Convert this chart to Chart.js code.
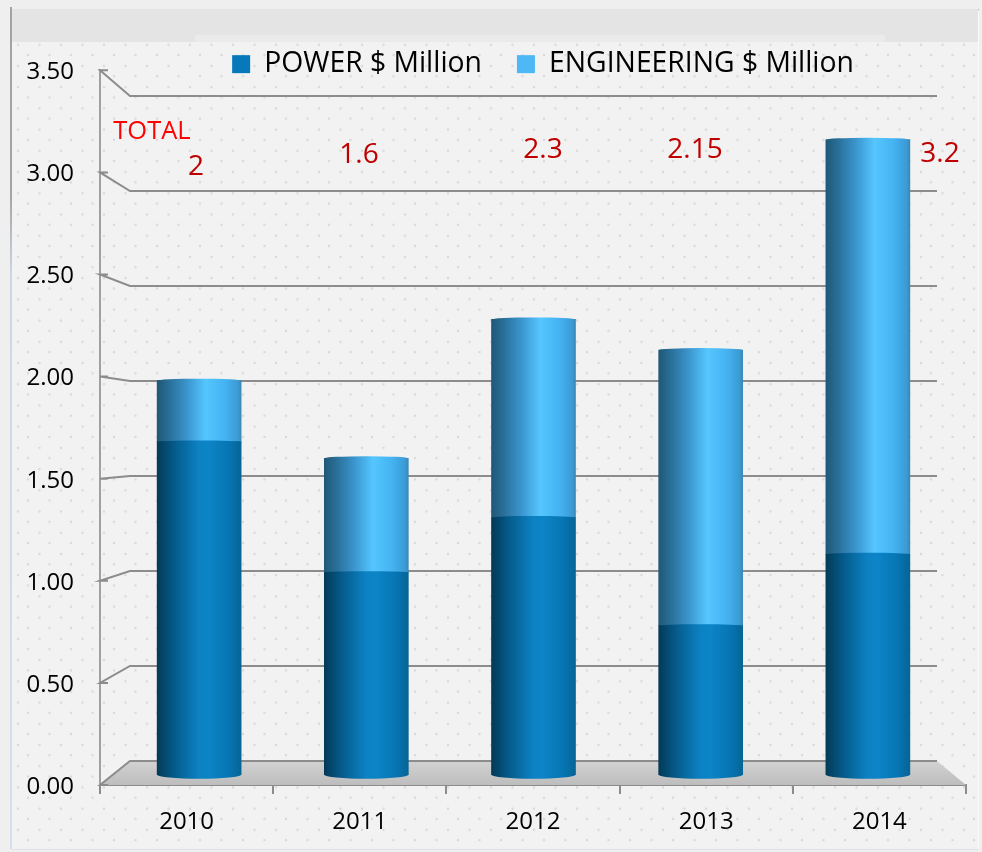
<!DOCTYPE html>
<html>
<head>
<meta charset="utf-8">
<title>Power and Engineering</title>
<script src="https://cdn.jsdelivr.net/npm/chart.js@4"></script>
<style>
html, body { margin: 0; padding: 0; background: #efefef; }
#moldura {
  position: absolute; left: 12px; top: 9px; width: 966px; height: 838px;
  border-top: 2px solid #a3a3a3;
  border-right: 1px solid #fafafa; border-bottom: 1px solid #dfe3e8;
  background-color: #f2f2f2;
  background-image:
    radial-gradient(circle, #d9d9d9 1.1px, transparent 1.6px),
    radial-gradient(circle, #d9d9d9 1.1px, transparent 1.6px);
  background-size: 21.5px 21.23px;
  background-position: 5.25px 12.2px, -4.75px 1.9px;
}
#lateral {
  position: absolute; left: 10px; top: 7px; width: 2px; height: 842px;
  background: linear-gradient(#a3a3a3 0, #a3a3a3 22%, #ccd6e4 32%, #d5e0ee 100%);
}
#faixa { position: absolute; left: 12px; top: 9px; width: 966px; height: 33px; background: #e4e4e4; }
#faixa2 { position: absolute; left: 195px; top: 35px; width: 690px; height: 7px; background: #eaeaea; }
#grafico { position: absolute; left: 0; top: 0; }
</style>
</head>
<body>
<div id="moldura"></div>
<div id="lateral"></div>
<div id="faixa"></div>
<div id="faixa2"></div>
<canvas id="grafico" width="982" height="852"></canvas>
<script>
var anos = ['2010', '2011', '2012', '2013', '2014']
var posicao = [0, 1, 2, 3, 4]
var power = [1.68, 1.04, 1.31, 0.78, 1.13]
var engineering = [0.30, 0.56, 0.97, 1.35, 2.03]
var totais = ['2', '1.6', '2.3', '2.15', '3.2']
var ticks_y = [0, 0.5, 1, 1.5, 2, 2.5, 3, 3.5]

// posição de cada rótulo de total (caixas de texto soltas no original)
var pos_totais = [[196, 167], [359, 155], [543, 150], [695, 150], [940, 154]]

var ctx = document.getElementById('grafico').getContext('2d')
var fonte = '"Open Sans", sans-serif'

// largura da barra em px
var largura = 84

function gradiente(x, cores) {
  var g = ctx.createLinearGradient(x - largura / 2, 0, x + largura / 2, 0)
  for (var i = 0; i < cores.length; i++) {
    g.addColorStop(cores[i][0], cores[i][1])
  }
  return g
}

var cores_power = [[0, '#033a58'], [0.22, '#055d8e'], [0.5, '#0c82c4'], [0.62, '#0c84c6'], [0.85, '#0775b3'], [1, '#066596']]
var cores_eng = [[0, '#1f5878'], [0.15, '#2a7099'], [0.35, '#3a94cc'], [0.58, '#55c6ff'], [0.8, '#45b4f2'], [0.96, '#3a9bd6'], [1, '#3c88b5']]

function pontos(valores) {
  return valores.map(function (v, i) { return { x: posicao[i], y: v } })
}

// parede do fundo, chão e linhas de grade em perspectiva
var parede = {
  id: 'parede',
  beforeDatasetsDraw: function (chart) {
    var y = chart.scales.y
    var c = chart.ctx
    var zero = y.getPixelForValue(0)
    var dir = chart.chartArea.right

    var chao = c.createLinearGradient(0, 761, 0, 785)
    chao.addColorStop(0, '#d2d2d2')
    chao.addColorStop(1, '#bdbdbd')
    c.fillStyle = chao
    c.beginPath()
    c.moveTo(100, zero)
    c.lineTo(130, 761)
    c.lineTo(937, 761)
    c.lineTo(dir, zero)
    c.closePath()
    c.fill()

    c.strokeStyle = '#8c8c8c'
    c.lineWidth = 2
    ticks_y.forEach(function (v) {
      var frente = y.getPixelForValue(v)
      var fundo = 761 - v * 190
      c.beginPath()
      c.moveTo(108, frente)
      c.lineTo(100, frente)
      c.lineTo(130, fundo)
      c.lineTo(937, fundo)
      c.stroke()
    })
  }
}

// tampas das barras (cilindro) e os textos de total
var cilindro = {
  id: 'cilindro',
  afterDatasetsDraw: function (chart) {
    var c = chart.ctx
    var m0 = chart.getDatasetMeta(0).data
    var m1 = chart.getDatasetMeta(1).data
    for (var i = 0; i < m0.length; i++) {
      var x = m0[i].x
      c.fillStyle = gradiente(x, cores_power)
      c.beginPath()
      c.ellipse(x, m0[i].base, largura / 2, 4, 0, 0, Math.PI * 2)
      c.fill()
      c.fillStyle = gradiente(x, cores_eng)
      c.beginPath()
      c.ellipse(x, m1[i].y, largura / 2, 2, 0, 0, Math.PI * 2)
      c.fill()
      c.fillStyle = gradiente(x, cores_power)
      c.beginPath()
      c.ellipse(x, m0[i].y, largura / 2, 1.5, 0, 0, Math.PI * 2)
      c.fill()
    }

    c.textAlign = 'center'
    c.textBaseline = 'middle'
    c.fillStyle = '#ff0000'
    c.font = '25.5px ' + fonte
    c.fillText('TOTAL', 152, 132)
    c.fillStyle = '#c00000'
    c.font = '28px ' + fonte
    totais.forEach(function (t, i) {
      c.fillText(t, pos_totais[i][0], pos_totais[i][1])
    })
  }
}

// a legenda fica por cima da área do gráfico, então coloco ela na mão
var ajuste_legenda = {
  id: 'ajuste_legenda',
  afterLayout: function (chart) {
    chart.legend.left = 110
    chart.legend.right = 976
    chart.legend.top = 15
    chart.legend.bottom = 101
  }
}

var config = {
  type: 'bar',
  data: {
    labels: anos,
    datasets: [
      {
        label: 'POWER $ Million',
        data: pontos(power),
        xAxisID: 'xBarras',
        base: 0.05,
        backgroundColor: function (c) {
          return gradiente(c.chart.scales.xBarras.getPixelForValue(c.dataIndex), cores_power)
        }
      },
      {
        label: 'ENGINEERING $ Million',
        data: pontos(engineering),
        xAxisID: 'xBarras',
        backgroundColor: function (c) {
          return gradiente(c.chart.scales.xBarras.getPixelForValue(c.dataIndex), cores_eng)
        }
      }
    ]
  },
  options: {
    responsive: false,
    animation: false,
    barThickness: largura,
    layout: { padding: { top: -3, right: 16, left: 0, bottom: 0 } },
    plugins: {
      tooltip: { enabled: false },
      legend: {
        position: 'top',
        fullSize: false,
        labels: {
          boxWidth: 18,
          boxHeight: 18,
          padding: 35,
          color: '#404040',
          font: { family: '"Open Sans", sans-serif', size: 28.3 },
          generateLabels: function () {
            return [
              { text: 'POWER $ Million', fillStyle: '#0779ba', strokeStyle: '#0779ba', lineWidth: 0, datasetIndex: 0 },
              { text: 'ENGINEERING $ Million', fillStyle: '#4db8f5', strokeStyle: '#4db8f5', lineWidth: 0, datasetIndex: 1 }
            ]
          }
        }
      }
    },
    scales: {
      x: {
        type: 'category',
        grid: { drawOnChartArea: false, color: '#8c8c8c', lineWidth: 2, tickLength: 9 },
        border: { color: '#8c8c8c', width: 2 },
        ticks: { color: '#000', font: { family: '"Open Sans", sans-serif', size: 24 }, padding: 14, maxRotation: 0 },
        afterFit: function (s) { s.height = 67 }
      },
      xBarras: {
        type: 'linear',
        display: false,
        stacked: true,
        offset: false,
        min: -0.593,
        max: 4.587
      },
      y: {
        type: 'linear',
        min: 0,
        max: 3.5,
        stacked: true,
        afterBuildTicks: function (s) {
          s.ticks = ticks_y.map(function (v) { return { value: v } })
        },
        grid: { drawOnChartArea: false, drawTicks: false },
        border: { color: '#a0a0a0', width: 2 },
        ticks: {
          color: '#000',
          padding: 26,
          labelOffset: 2,
          font: { family: '"Open Sans", sans-serif', size: 24 },
          callback: function (v) { return Number(v).toFixed(2) }
        },
        afterFit: function (s) { s.width = 100 }
      }
    }
  },
  plugins: [parede, cilindro, ajuste_legenda]
}

var grafico = new Chart(ctx, config)
</script>
</body>
</html>
